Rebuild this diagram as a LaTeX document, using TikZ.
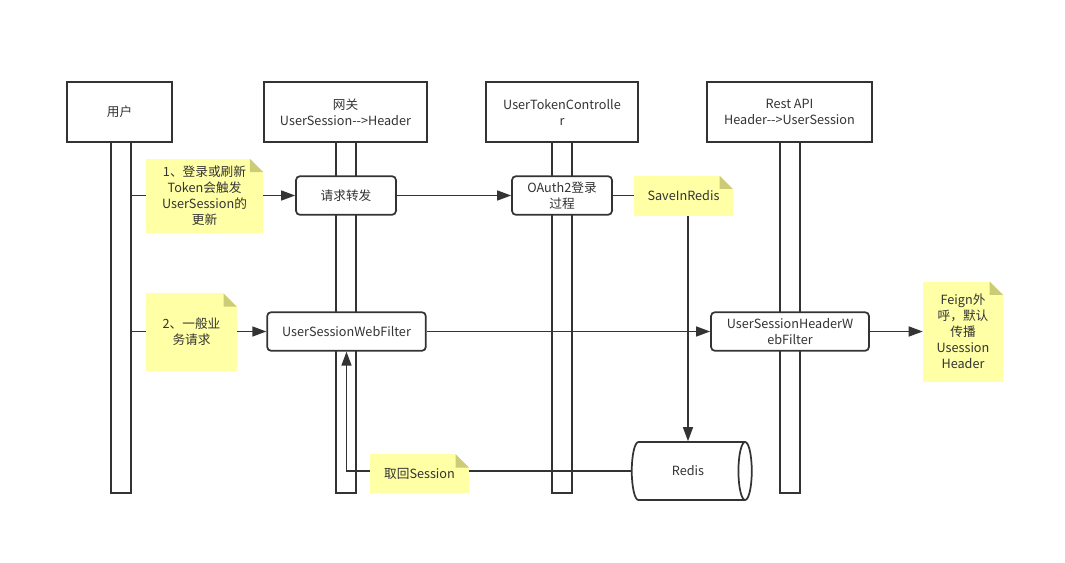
\documentclass[tikz,border=0pt]{standalone}
\usepackage{fontspec}
\setmainfont{Noto Sans CJK SC}
\usetikzlibrary{arrows.meta,shapes.geometric}
\definecolor{ink}{HTML}{333333}
\definecolor{notey}{HTML}{FFFFA6}
\definecolor{notefold}{HTML}{CCCC77}

\begin{document}
\begin{tikzpicture}[x=0.75pt,y=-0.75pt,
  every node/.style={font=\fontsize{9.5pt}{12pt}\selectfont, text=ink, align=center},
  head/.style={draw=ink, line width=1.5pt, fill=white, minimum height=45pt},
  bar/.style={draw=ink, line width=1.5pt, fill=white, minimum width=15pt, minimum height=263pt, inner sep=0pt},
  act/.style={draw=ink, line width=1.3pt, fill=white, rounded corners=3pt, minimum height=29pt, inner sep=1pt},
  note/.style={fill=notey, inner sep=1pt,
    path picture={
      \fill[white] (path picture bounding box.north east) -- ++(-10pt,0) -- ++(10pt,-10pt) -- cycle;
      \fill[notefold] ([xshift=-10pt]path picture bounding box.north east) -- ++(10pt,-10pt) -- ++(-10pt,0) -- cycle;}},
  msg/.style={draw=ink, line width=1.1pt, -{Triangle[length=10.5pt,width=7.5pt]}},
  link/.style={draw=ink, line width=1.1pt}]

  \useasboundingbox (0,0) rectangle (1065,562);

  % lifelines
  \node[head, minimum width=79pt] (user) at (119.5,112) {用户};
  \node[head, minimum width=122pt] (gate) at (345.5,112) {网关\\UserSession-{}-{}>Header};
  \node[head, minimum width=114pt] (utc) at (562,112) {UserTokenControlle\\r};
  \node[head, minimum width=124pt] (rest) at (789.5,112) {Rest API\\Header-{}-{}>UserSession};
  \node[bar] (ubar) at (121,317.5) {};
  \node[bar] (gbar) at (346,317.5) {};
  \node[bar] (tbar) at (562,317.5) {};
  \node[bar] (rbar) at (790,317.5) {};

  % activities
  \node[act, minimum width=75pt] (fwd) at (346,195.5) {请求转发};
  \node[act, minimum width=75pt] (oauth) at (562,195.5) {OAuth2登录\\过程};
  \node[act, minimum width=119pt] (wf) at (346.5,331.5) {UserSessionWebFilter};
  \node[act, minimum width=118.5pt] (hwf) at (790,331.5) {UserSessionHeaderW\\ebFilter};
  \node[draw=ink, line width=1.3pt, fill=white, cylinder, shape aspect=1.3,
        minimum width=43.5pt, minimum height=90pt, inner sep=0pt] (redis) at (688,471) {Redis};

  % messages
  \draw[msg] (ubar.east |- fwd) -- (fwd.west);
  \draw[msg] (fwd.east) -- (oauth.west);
  \draw[msg] (ubar.east |- wf) -- (wf.west);
  \draw[msg] (wf.east) -- (hwf.west);
  \draw[msg] (redis.west) -| (wf.south);

  % notes
  \node[note, minimum width=88pt, minimum height=56pt] (n1) at (204.5,196) {1、登录或刷新\\Token会触发\\UserSession的\\更新};
  \node[note, minimum width=74pt, minimum height=30pt] (save) at (683.5,195.5) {SaveInRedis};
  \node[note, minimum width=68pt, minimum height=58pt] (n2) at (191.5,332) {2、一般业\\务请求};
  \node[note, minimum width=60pt, minimum height=75pt] (feign) at (963,331.5) {Feign外\\呼，默认\\传播\\Usession\\Header};
  \node[note, minimum width=74pt, minimum height=29pt] (back) at (419.5,473.5) {取回Session};

  \draw[link] (oauth.east) -- (save.west);
  \draw[msg] (redis.north |- save.south) -- (redis.north);
  \draw[msg] (hwf.east) -- (feign.west);
\end{tikzpicture}
\end{document}
